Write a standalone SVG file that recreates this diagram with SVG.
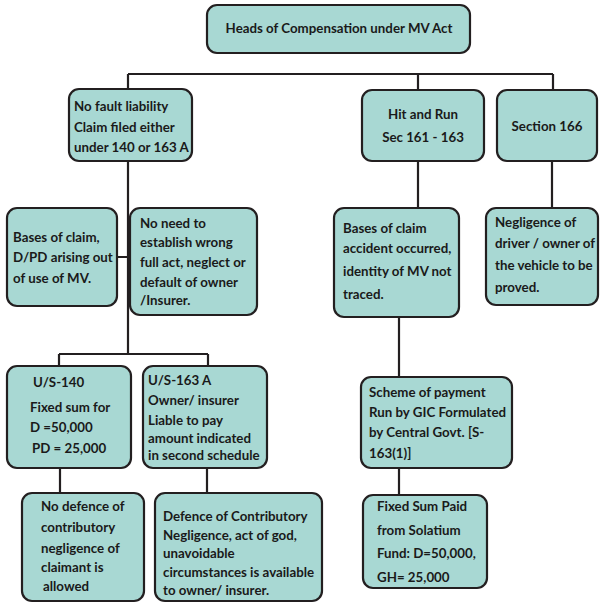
<svg xmlns="http://www.w3.org/2000/svg" width="600" height="604" viewBox="0 0 600 604">
<style>
.box{fill:#a8d8d3;stroke:#231f20;stroke-width:2.2}
.ln{stroke:#231f20;stroke-width:2.2;fill:none}
text{font-family:Lato,"Open Sans","Liberation Sans",sans-serif;font-weight:bold;font-size:13.3px;fill:#1a1a1a}
.c{text-anchor:middle}
</style>
<rect width="600" height="604" fill="#ffffff"/>
<g id="connectors">
<path class="ln" d="M128,74 H553 M128,74 V89 M418,74 V90 M553,74 V90"/>
<path class="ln" d="M128,161 V354 M117,257 H128 M59,354 H208 M59,354 V366 M208,354 V366"/>
<path class="ln" d="M60,468 V493 M207,468 V493"/>
<path class="ln" d="M418,161 V208 M552,161 V208 M399,317 V377 M399,468 V495"/>
</g>
<g id="root"><rect class="box" x="207" y="5" width="263" height="48" rx="10"/><text class="c" x="339" y="33">Heads of Compensation under MV Act</text></g>
<g id="nofault"><rect class="box" x="69" y="89" width="123" height="72" rx="10"/><text x="74" y="111">No fault liability</text><text x="74" y="132">Claim filed either</text><text x="74" y="152">under 140 or 163 A</text></g>
<g id="hitrun"><rect class="box" x="362" y="90" width="122" height="71" rx="10"/><text class="c" x="423" y="119">Hit and Run</text><text class="c" x="423" y="142">Sec 161 - 163</text></g>
<g id="sec166"><rect class="box" x="497" y="90" width="100" height="71" rx="10"/><text class="c" x="547" y="131">Section 166</text></g>
<g id="bases1"><rect class="box" x="7" y="208" width="110" height="98" rx="10"/><text x="13" y="242">Bases of claim,</text><text x="13" y="262">D/PD arising out</text><text x="13" y="283">of use of MV.</text></g>
<g id="noneed"><rect class="box" x="130" y="208" width="127" height="107" rx="10"/><text x="140" y="228">No need to</text><text x="140" y="247">establish wrong</text><text x="140" y="267">full act, neglect or</text><text x="140" y="287">default of owner</text><text x="140" y="305">/Insurer.</text></g>
<g id="bases2"><rect class="box" x="334" y="208" width="125" height="109" rx="10"/><text x="343" y="233">Bases of claim</text><text x="343" y="253">accident occurred,</text><text x="343" y="276">identity of MV not</text><text x="343" y="299">traced.</text></g>
<g id="negligence"><rect class="box" x="486" y="208" width="112" height="97" rx="10"/><text x="495" y="227">Negligence of</text><text x="495" y="248">driver / owner of</text><text x="495" y="270">the vehicle to be</text><text x="495" y="292">proved.</text></g>
<g id="us140"><rect class="box" x="7" y="366" width="124" height="102" rx="10"/><text x="33" y="387">U/S-140</text><text x="30" y="412">Fixed sum for</text><text x="30" y="432">D =50,000</text><text x="32" y="453">PD = 25,000</text></g>
<g id="us163a"><rect class="box" x="143" y="366" width="124" height="102" rx="10"/><text x="148" y="385">U/S-163 A</text><text x="148" y="405">Owner/ insurer</text><text x="148" y="425">Liable to pay</text><text x="148" y="443">amount indicated</text><text x="148" y="460">in second schedule</text></g>
<g id="scheme"><rect class="box" x="361" y="377" width="151" height="91" rx="10"/><text x="369" y="397">Scheme of payment</text><text x="369" y="417">Run by GIC Formulated</text><text x="369" y="437">by Central Govt. [S-</text><text x="369" y="458">163(1)]</text></g>
<g id="nodefence"><rect class="box" x="22" y="493" width="122" height="108" rx="10"/><text x="41" y="511">No defence of</text><text x="41" y="532">contributory</text><text x="41" y="553">negligence of</text><text x="41" y="572">claimant is</text><text x="43" y="591">allowed</text></g>
<g id="defence"><rect class="box" x="155" y="493" width="167" height="108" rx="10"/><text x="163" y="521">Defence of Contributory</text><text x="163" y="540">Negligence, act of god,</text><text x="163" y="558">unavoidable</text><text x="163" y="577">circumstances is available</text><text x="163" y="595">to owner/ insurer.</text></g>
<g id="fixedsum"><rect class="box" x="363" y="495" width="124" height="93" rx="10"/><text x="377" y="511">Fixed Sum Paid</text><text x="377" y="535">from Solatium</text><text x="377" y="558">Fund: D=50,000,</text><text x="377" y="582">GH= 25,000</text></g>
</svg>
